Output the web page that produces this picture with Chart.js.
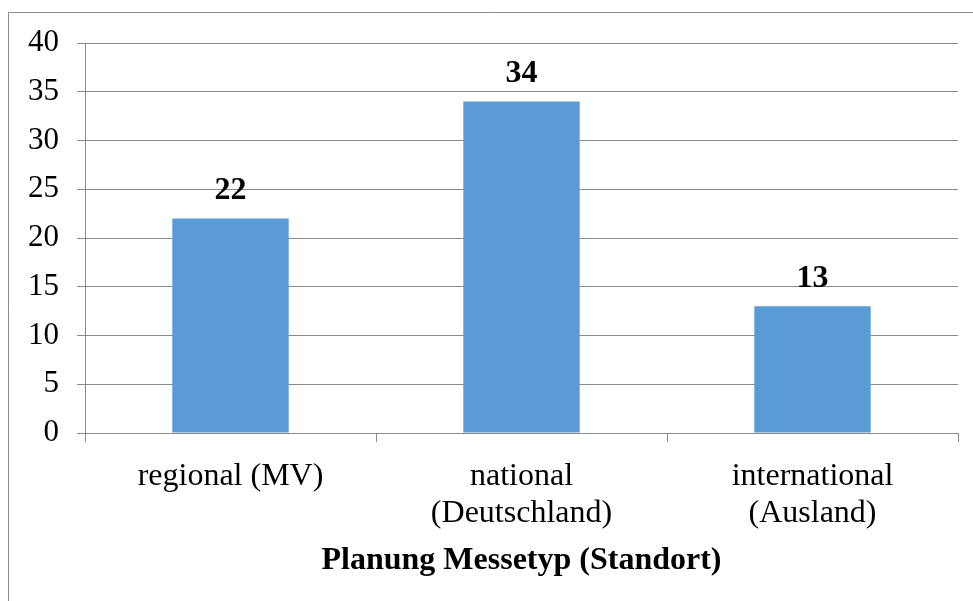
<!DOCTYPE html>
<html>
<head>
<meta charset="utf-8">
<script src="https://cdn.jsdelivr.net/npm/chart.js@4/dist/chart.umd.min.js"></script>
<style>
html,body{margin:0;padding:0;background:#fff;}
#wrap{width:973px;height:601px;position:relative;}
</style>
</head>
<body>
<div id="wrap"><canvas id="c" width="973" height="601"></canvas></div>
<script>
const categories = [["regional (MV)"], ["national", "(Deutschland)"], ["international", "(Ausland)"]];
const values = [22, 34, 13];
const yTicks = [0, 5, 10, 15, 20, 25, 30, 35, 40];
const axisTitle = "Planung Messetyp (Standort)";

const GRID = '#8a8a8a';
const FONT = "'Liberation Serif', 'Times New Roman', serif";

const frame = {
  id: 'frame',
  beforeDraw(chart) {
    const ctx = chart.ctx;
    ctx.save();
    ctx.fillStyle = '#fff';
    ctx.fillRect(0, 0, chart.width, chart.height);
    ctx.strokeStyle = GRID;
    ctx.lineWidth = 1;
    ctx.beginPath();
    ctx.moveTo(8.5, chart.height);
    ctx.lineTo(8.5, 12.5);
    ctx.lineTo(chart.width, 12.5);
    ctx.stroke();
    ctx.restore();
  }
};

const dataLabels = {
  id: 'dataLabels',
  afterDatasetsDraw(chart) {
    const ctx = chart.ctx;
    const meta = chart.getDatasetMeta(0);
    ctx.save();
    ctx.font = "bold 32px " + FONT;
    ctx.fillStyle = '#000';
    ctx.textAlign = 'center';
    ctx.textBaseline = 'middle';
    meta.data.forEach((bar, i) => {
      ctx.fillText(String(chart.data.datasets[0].data[i]), bar.x, bar.y - 28);
    });
    ctx.restore();
  }
};

new Chart(document.getElementById('c'), {
  type: 'bar',
  data: {
    labels: categories,
    datasets: [{
      data: values,
      backgroundColor: '#5B9BD5',
      borderWidth: 0,
      categoryPercentage: 1.0,
      barPercentage: 0.4
    }]
  },
  options: {
    responsive: false,
    animation: false,
    devicePixelRatio: 1,
    layout: { padding: { top: 43, right: 15, bottom: 0, left: 0 } },
    plugins: { legend: { display: false }, tooltip: { enabled: false } },
    scales: {
      x: {
        afterFit(s) { s.height = 168; },
        grid: { offset: true, drawOnChartArea: false, drawTicks: true, tickLength: 9, color: GRID, lineWidth: 1 },
        border: { display: true, color: GRID, width: 1 },
        ticks: { color: '#000', font: { family: FONT, size: 32, lineHeight: 1.15 }, padding: 16, maxRotation: 0, autoSkip: false },
        title: {
          display: true, text: axisTitle, color: '#000',
          font: { family: FONT, size: 32, weight: 'bold' },
          padding: { top: 0, bottom: 21 }
        }
      },
      y: {
        min: 0, max: 40,
        afterFit(s) { s.width = 85; },
        afterBuildTicks(s) { s.ticks = yTicks.map(v => ({ value: v })); },
        grid: { drawTicks: true, tickLength: 8, color: GRID, lineWidth: 1 },
        border: { display: true, color: GRID, width: 1 },
        ticks: { color: '#000', font: { family: FONT, size: 31 }, padding: 18 }
      }
    }
  },
  plugins: [frame, dataLabels]
});
</script>
</body>
</html>
